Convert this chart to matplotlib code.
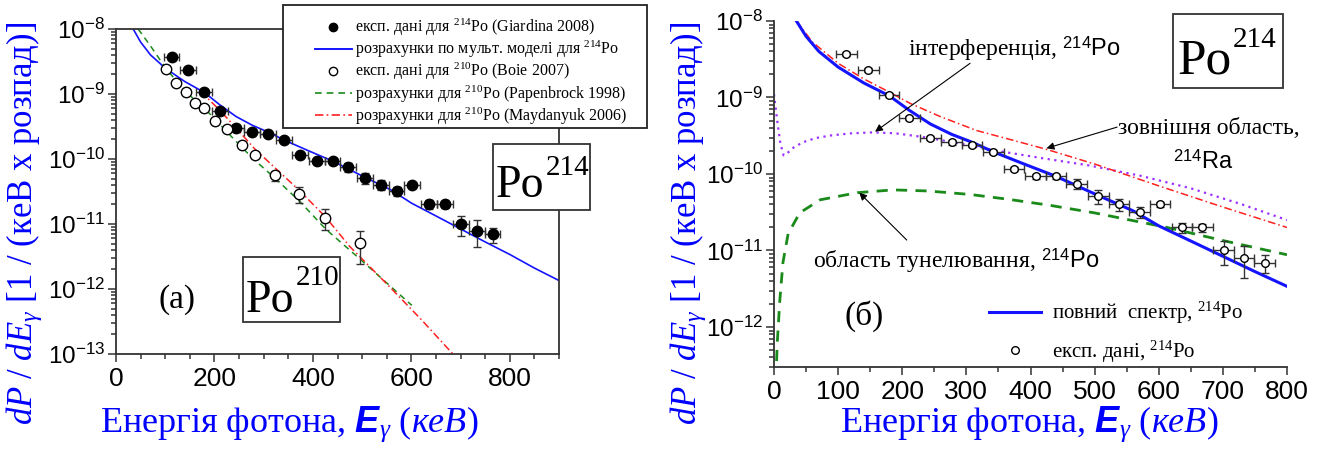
import matplotlib
matplotlib.use('Agg')
import matplotlib.pyplot as plt
from matplotlib.lines import Line2D
from matplotlib.patches import Rectangle
from matplotlib.ticker import LogLocator, LogFormatterMathtext, MultipleLocator, NullFormatter

plt.rcParams['font.family'] = 'Liberation Sans'
plt.rcParams['mathtext.fontset'] = 'custom'
plt.rcParams['mathtext.rm'] = 'Liberation Serif'
plt.rcParams['mathtext.it'] = 'Liberation Serif:italic'
plt.rcParams['mathtext.sf'] = 'Liberation Sans'
plt.rcParams['mathtext.bf'] = 'Liberation Sans:italic:bold'
plt.rcParams['axes.unicode_minus'] = False

# --- experimental data: 214Po (Giardina 2008) ---
E_214 = [113, 147, 179, 211, 244, 277, 309, 342, 374, 408, 440,
         472, 506, 538, 570, 602, 636, 668, 701, 733, 765]
P_214 = [3.7e-9, 2.3e-9, 1.08e-9, 5.4e-10, 3.0e-10, 2.6e-10, 2.43e-10,
         1.95e-10, 1.17e-10, 9.3e-11, 9.3e-11, 7.5e-11, 5.1e-11, 4.0e-11,
         3.2e-11, 4.0e-11, 2.0e-11, 2.0e-11, 1.0e-11, 7.9e-12, 6.9e-12]
P_214_err = [2.2e-10, 1.4e-10, 6.5e-11, 3.2e-11, 1.8e-11, 2.1e-11, 1.5e-11,
             1.2e-11, 8e-12, 8e-12, 8e-12, 1.1e-11, 1.0e-11, 7e-12, 5e-12,
             3e-12, 3e-12, 2.5e-12, 3.5e-12, 3.5e-12, 1.8e-12]
E_214_err = 16

# --- experimental data: 210Po (Boie 2007) ---
E_210 = [101, 122, 142, 160, 179, 201, 225, 255, 283, 324, 372, 425, 496]
P_210 = [2.4e-9, 1.49e-9, 1.08e-9, 7.2e-10, 6.0e-10, 3.9e-10, 2.9e-10,
         1.64e-10, 1.17e-10, 5.6e-11, 2.9e-11, 1.25e-11, 5.1e-12]
E_210_err = [6, 6, 6, 6, 6, 6, 0, 0, 0, 0, 0, 0, 0]
P_210_err = [1.5e-10, 9e-11, 6e-11, 4e-11, 3.5e-11, 2.2e-11, 0, 0, 0,
             1.0e-11, 8e-12, 4.5e-12, 2.7e-12]

# --- multipolar model, full spectrum for 214Po ---
model_E = [35, 50, 70, 100, 140, 180, 211, 244, 277, 309, 342, 390, 440,
           500, 560, 600, 650, 700, 750, 800, 850, 900]
model_214 = [1e-8, 6.3e-9, 4.0e-9, 2.5e-9, 1.55e-9, 1.05e-9, 6.8e-10,
             4.5e-10, 3.3e-10, 2.6e-10, 1.95e-10, 1.35e-10, 9.3e-11,
             5.5e-11, 3.3e-11, 2.1e-11, 1.33e-11, 8.4e-12, 5.3e-12,
             3.4e-12, 2.1e-12, 1.35e-12]

# --- 210Po calculations ---
pap_E = [45, 70, 101, 140, 180, 201, 240, 279, 324, 374, 425, 500, 601]
pap_210 = [1e-8, 5.5e-9, 2.5e-9, 1.1e-9, 6.0e-10, 4.1e-10, 2.0e-10,
           1.0e-10, 5.0e-11, 2.2e-11, 8.5e-12, 2.7e-12, 5.6e-13]
may_E = [172, 211, 244, 283, 324, 374, 425, 475, 550, 620, 690]
may_210 = [1.1e-9, 5.6e-10, 3.0e-10, 1.4e-10, 7.2e-11, 3.2e-11, 1.3e-11,
           4.5e-12, 1.2e-12, 3.4e-13, 9e-14]

# --- 214Po spectrum components ---
ra_E = [35, 60, 100, 140, 178, 212, 260, 316, 370, 425, 500, 600, 700, 800]
ra_214 = [1e-8, 5.3e-9, 2.8e-9, 1.75e-9, 1.2e-9, 8.4e-10, 5.6e-10,
          3.7e-10, 2.8e-10, 2.1e-10, 1.35e-10, 7.0e-11, 3.7e-11, 2.0e-11]
int_E = [0, 5, 10, 15, 20, 30, 45, 65, 90, 120, 155, 190, 238, 290, 342,
         420, 490, 571, 650, 730, 800]
int_214 = [1.1e-9, 5e-10, 2.5e-10, 1.75e-10, 1.85e-10, 2.2e-10, 2.6e-10,
           2.95e-10, 3.2e-10, 3.4e-10, 3.5e-10, 3.4e-10, 3.0e-10, 2.5e-10,
           2.05e-10, 1.6e-10, 1.3e-10, 9.5e-11, 6.5e-11, 4.0e-11, 2.5e-11]
tun_E = [3, 5, 9, 14, 22, 40, 72, 130, 186, 240, 306, 363, 430, 500, 613,
         700, 800]
tun_214 = [2e-13, 6e-13, 2.2e-12, 7e-12, 1.65e-11, 3.1e-11, 4.6e-11,
           5.7e-11, 6.2e-11, 6.0e-11, 5.4e-11, 4.7e-11, 3.9e-11, 3.1e-11,
           2.0e-11, 1.35e-11, 8.8e-12]

legend_a = ['експ. дані для $^{214}$Po (Giardina 2008)',
            'розрахунки по мульт. моделі для $^{214}$Po',
            'експ. дані для $^{210}$Po (Boie 2007)',
            'розрахунки для $^{210}$Po (Papenbrock 1998)',
            'розрахунки для $^{210}$Po (Maydanyuk 2006)']
legend_b = ['повний  спектр, $^{214}$Po', 'експ. дані, $^{214}$Po']

BLUE = '#1414ff'
GREEN = '#1a8a1a'
RED = '#ff2020'
PURPLE = '#9b30ff'
AX = '#333333'
LBL = '#0000ff'
SERIF = 'Liberation Serif'

W, H = 1336, 453


def fx(x):
    return x / W


def fy(y):
    return 1 - y / H


fig = plt.figure(figsize=(W / 100, H / 100), dpi=100)

axA = fig.add_axes([fx(116), fy(354), fx(559) - fx(116), fy(29) - fy(354)])
axB = fig.add_axes([fx(774), fy(367), fx(1287) - fx(774), fy(21) - fy(367)])

# left panel: 214Po and 210Po
axA.plot(model_E, model_214, color=BLUE, lw=1.2, zorder=2)
axA.plot(pap_E, pap_210, color=GREEN, lw=1.1, ls=(0, (4, 3)), zorder=2)
axA.plot(may_E, may_210, color=RED, lw=1.1, ls=(0, (5, 2, 1, 2)), zorder=2)
axA.errorbar(E_214, P_214, xerr=E_214_err, yerr=P_214_err, fmt='o', ms=7.5,
             mfc='k', mec='k', ecolor=AX, elinewidth=1, capsize=3, zorder=3)
axA.errorbar(E_210, P_210, xerr=E_210_err, yerr=P_210_err, fmt='o', ms=7.5,
             mfc='white', mec='k', mew=1, ecolor=AX, elinewidth=1,
             capsize=3, zorder=3)
axA.set_xlim(0, 900)
axA.set_ylim(1e-13, 1e-8)
axA.set_yscale('log')
axA.xaxis.set_major_locator(MultipleLocator(200))
axA.xaxis.set_minor_locator(MultipleLocator(50))

# right panel: components of the 214Po spectrum
axB.plot(tun_E, tun_214, color=GREEN, lw=2, ls=(0, (4, 3)), zorder=2)
axB.plot(int_E, int_214, color=PURPLE, lw=1.6, ls=(0, (1, 2)), zorder=2)
axB.plot(ra_E, ra_214, color=RED, lw=1.1, ls=(0, (5, 2, 1, 2)), zorder=2)
axB.plot(model_E, model_214, color=BLUE, lw=2.2, zorder=2)
axB.errorbar(E_214, P_214, xerr=E_214_err, yerr=P_214_err, fmt='o', ms=5.5,
             mfc='white', mec='k', mew=1, ecolor=AX, elinewidth=1,
             capsize=3, zorder=3)
axB.set_xlim(0, 800)
axB.set_ylim(3e-13, 1e-8)
axB.set_yscale('log')
axB.xaxis.set_major_locator(MultipleLocator(100))
axB.xaxis.set_minor_locator(MultipleLocator(50))
axB.spines['top'].set_visible(False)
axB.spines['right'].set_visible(False)

for ax in (axA, axB):
    ax.yaxis.set_major_locator(LogLocator(base=10, numticks=20))
    ax.yaxis.set_minor_locator(LogLocator(base=10, subs=range(2, 10), numticks=20))
    ax.yaxis.set_major_formatter(LogFormatterMathtext())
    ax.yaxis.set_minor_formatter(NullFormatter())
    ax.tick_params(which='both', direction='out', colors=AX, width=1.1,
                   labelcolor='k')
    ax.tick_params(axis='x', labelsize=19)
    ax.tick_params(axis='y', labelsize=17.5, pad=2)
    ax.tick_params(which='major', length=6)
    ax.tick_params(which='minor', length=3.5)
    for s in ax.spines.values():
        s.set_color(AX)
        s.set_linewidth(1.3)

# axis titles
xlab = 'Енергія фотона, $\\mathbf{E}_{\\gamma}$ $\\mathit{(кеВ)}$'
ylab = '$dP\\ /\\ dE_{\\gamma}$ [1 / (кеВ х розпад)]'
fig.text(fx(100), fy(432), xlab, family=SERIF, size=26, color=LBL, va='baseline')
fig.text(fx(840), fy(432), xlab, family=SERIF, size=26, color=LBL, va='baseline')
fig.text(fx(24), fy(223), ylab, family=SERIF, size=25, color=LBL,
         rotation=90, ha='center', va='center')
fig.text(fx(688), fy(223), ylab, family=SERIF, size=25, color=LBL,
         rotation=90, ha='center', va='center')

# legend of the left panel, drawn on a white box over the axes
fig.add_artist(Rectangle((fx(283), fy(128)), fx(647) - fx(283), fy(5) - fy(128),
                         transform=fig.transFigure, fc='white', ec='#222222',
                         lw=1.3, zorder=4))
hA = [Line2D([], [], ls='none', marker='o', ms=6, mfc='k', mec='k'),
      Line2D([], [], color=BLUE, lw=1.4),
      Line2D([], [], ls='none', marker='o', ms=6, mfc='white', mec='k'),
      Line2D([], [], color=GREEN, lw=1.2, ls=(0, (4, 3))),
      Line2D([], [], color=RED, lw=1.2, ls=(0, (5, 2, 1, 2)))]
fig.legend(hA, legend_a, loc='upper left', bbox_to_anchor=(fx(315), fy(17)),
           frameon=False, prop={'family': SERIF, 'size': 11.5},
           handlelength=2.3, handletextpad=0.2, labelspacing=0.05,
           borderpad=0, borderaxespad=0)

# legend of the right panel
hB = [Line2D([], [], color=BLUE, lw=2.2),
      Line2D([], [], ls='none', marker='o', ms=5.5, mfc='white', mec='k')]
fig.legend(hB, legend_b, loc='upper left', bbox_to_anchor=(fx(989), fy(300)),
           frameon=False, prop={'family': SERIF, 'size': 15},
           handlelength=2.5, handletextpad=0.5, labelspacing=0.6,
           borderpad=0, borderaxespad=0)

# isotope boxes
for (x0, y0, x1, y1, num, px, py, sx, sy, sz) in [
        (492.7, 144, 590, 210, '214', 496, 196.7, 546, 175, 33),
        (242.7, 256.7, 340, 321.7, '210', 246, 311.7, 296, 285, 33),
        (1172.7, 14, 1282.7, 88, '214', 1178, 74, 1233, 46.7, 37)]:
    fig.add_artist(Rectangle((fx(x0), fy(y1)), fx(x1) - fx(x0), fy(y0) - fy(y1),
                             transform=fig.transFigure, fc='white', ec=AX,
                             lw=1.3, zorder=4))
    fig.text(fx(px), fy(py), 'Po', family=SERIF, size=sz, va='baseline', zorder=6)
    fig.text(fx(sx), fy(sy), num, family=SERIF, size=21, va='baseline', zorder=6)

fig.text(fx(158), fy(308), '(а)', family=SERIF, size=24, va='baseline')
fig.text(fx(845), fy(325), '(б)', family=SERIF, size=24, va='baseline')

# curve labels on the right panel
fig.text(fx(908), fy(56), 'інтерференція, $^{\\mathsf{214}}\\mathsf{Po}$',
         family=SERIF, size=17, va='baseline')
fig.text(fx(1118), fy(134), 'зовнішня область,', family=SERIF, size=17,
         va='baseline')
fig.text(fx(1173), fy(169), '$^{\\mathsf{214}}\\mathsf{Ra}$', family=SERIF,
         size=17, va='baseline')
fig.text(fx(813), fy(268), 'область тунелювання, $^{\\mathsf{214}}\\mathsf{Po}$',
         family=SERIF, size=17, va='baseline')

arrow = dict(arrowstyle='-|>', color='k', lw=0.8, mutation_scale=11,
             shrinkA=0, shrinkB=0)
axB.annotate('', xy=(157.6, 3.57e-10), xytext=(305.8, 2.8e-9), arrowprops=arrow)
axB.annotate('', xy=(425, 2.17e-10), xytext=(535, 4.1e-10), arrowprops=arrow)
axB.annotate('', xy=(133, 5.7e-11), xytext=(207, 1.37e-11), arrowprops=arrow)

fig.savefig('out.png', dpi=100)
